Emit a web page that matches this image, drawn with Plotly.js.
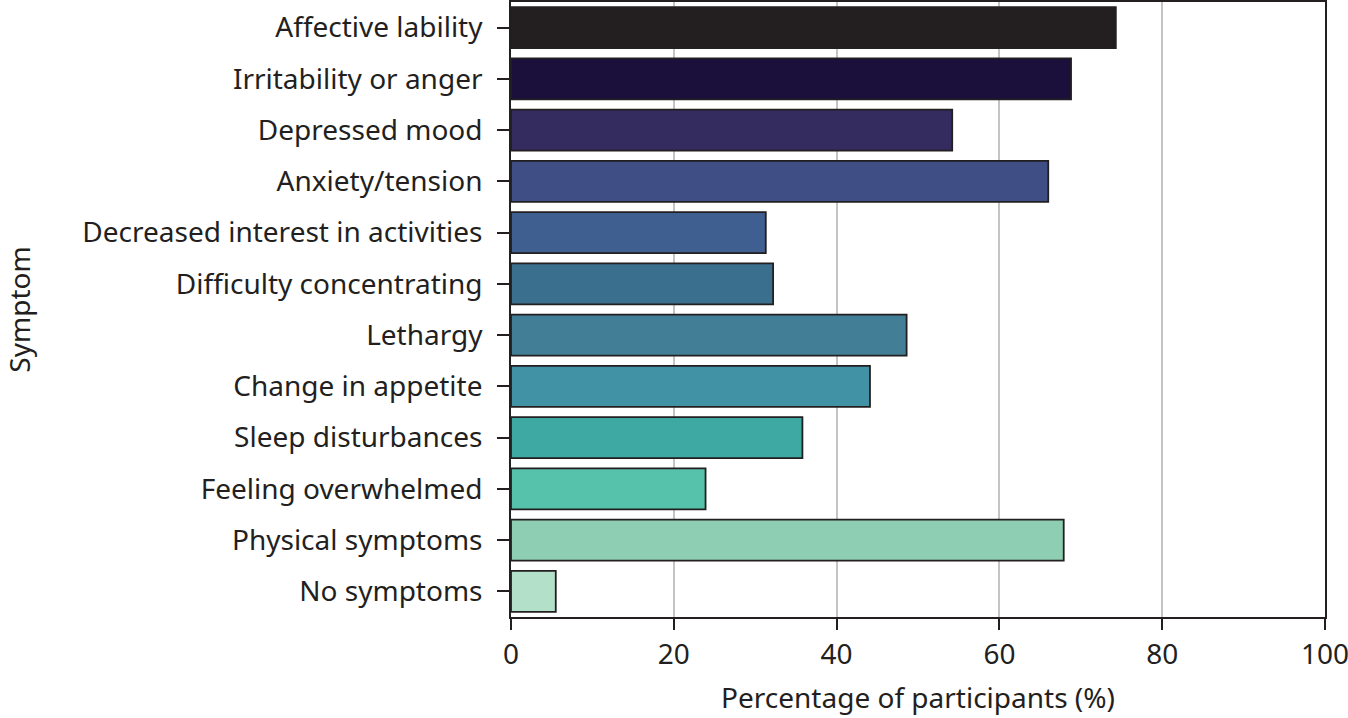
<!DOCTYPE html>
<html>
<head>
<meta charset="utf-8">
<script src="https://cdn.plot.ly/plotly-3.0.1.min.js"></script>
<style>html,body{margin:0;padding:0;background:#fff;}#chart{width:1348px;height:718px;}</style>
</head>
<body>
<div id="chart"></div>
<script>
const symptoms = [
  "Affective lability",
  "Irritability or anger",
  "Depressed mood",
  "Anxiety/tension",
  "Decreased interest in activities",
  "Difficulty concentrating",
  "Lethargy",
  "Change in appetite",
  "Sleep disturbances",
  "Feeling overwhelmed",
  "Physical symptoms",
  "No symptoms"
];
const percentages = [74.3, 68.8, 54.2, 66.0, 31.3, 32.2, 48.6, 44.1, 35.8, 23.9, 67.9, 5.5];
const barColors = [
  "#231f20", "#1b0f3c", "#342c5e", "#3f4e85", "#405f91", "#3a6f8e",
  "#427f97", "#4192a4", "#3ea9a3", "#56c2ab", "#8ecfb3", "#b3e0c9"
];
const xTicks = [0, 20, 40, 60, 80, 100];

const FONT = "Noto Sans, sans-serif";
const INK = "#231f20";
const FS = 28;

const trace = {
  type: "bar",
  orientation: "h",
  x: percentages,
  y: symptoms,
  width: 0.8,
  marker: { color: barColors, line: { color: INK, width: 1.8 } },
  hoverinfo: "x+y"
};

const layout = {
  width: 1348,
  height: 718,
  margin: { l: 511, r: 23, t: 2, b: 101 },
  paper_bgcolor: "#fff",
  plot_bgcolor: "#fff",
  font: { family: FONT, size: FS, color: INK },
  showlegend: false,
  bargap: 0.2,
  xaxis: {
    range: [0, 100],
    tickvals: xTicks,
    ticktext: xTicks.map(String),
    ticklabeloverflow: "allow",
    showgrid: true,
    gridcolor: "#c4c4c4",
    gridwidth: 1.5,
    zeroline: false,
    showline: true,
    linecolor: INK,
    linewidth: 1.8,
    mirror: true,
    ticks: "outside",
    ticklen: 11,
    tickwidth: 1.8,
    tickcolor: INK,
    tickfont: { family: FONT, size: FS, color: INK },
    title: { text: "Percentage of participants (%)", font: { family: FONT, size: FS, color: INK }, standoff: 18 }
  },
  yaxis: {
    type: "category",
    autorange: "reversed",
    showgrid: false,
    zeroline: false,
    showline: true,
    linecolor: INK,
    linewidth: 1.8,
    mirror: true,
    ticks: "outside",
    ticklen: 12,
    tickwidth: 1.8,
    tickcolor: INK,
    tickfont: { family: FONT, size: FS, color: INK },
    ticklabelstandoff: 9,
    title: { text: "Symptom", font: { family: FONT, size: FS, color: INK }, standoff: 57 }
  }
};

Plotly.newPlot("chart", [trace], layout, { displayModeBar: false, responsive: false });
</script>
</body>
</html>
